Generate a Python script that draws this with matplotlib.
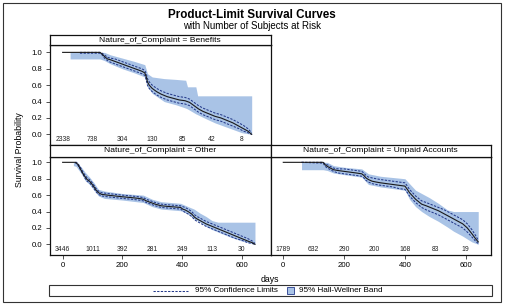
import numpy as np
import matplotlib
matplotlib.use("Agg")
import matplotlib.pyplot as plt
from matplotlib.lines import Line2D
from matplotlib.patches import Rectangle

plt.rcParams['font.family'] = ['Liberation Sans', 'DejaVu Sans']

nan = np.nan
panel_titles = ["Nature_of_Complaint = Benefits",
                "Nature_of_Complaint = Other",
                "Nature_of_Complaint = Unpaid Accounts"]
risk_times = [0, 100, 200, 300, 400, 500, 600]
xticks = [0, 200, 400, 600]
yticks = [0.0, 0.2, 0.4, 0.6, 0.8, 1.0]
legend_labels = ["95% Confidence Limits", "95% Hall-Wellner Band"]

# Benefits
b_t = [0, 58, 125, 132, 140, 150, 160, 175, 190, 205, 220, 235, 250, 265, 275, 280, 284, 290, 300, 315,
       330, 350, 370, 390, 410, 425, 440, 455, 470, 490, 510, 530, 550, 570, 590, 605, 620, 633]
b_s = [1.0, 1.0, 1.0, 0.98, 0.95, 0.92, 0.91, 0.89, 0.87, 0.85, 0.83, 0.81, 0.79, 0.77, 0.75, 0.70, 0.64, 0.60, 0.56, 0.52,
       0.49, 0.46, 0.44, 0.42, 0.41, 0.39, 0.35, 0.31, 0.28, 0.25, 0.22, 0.20, 0.17, 0.14, 0.10, 0.07, 0.04, 0.0]
b_lo = [nan, 0.99, 0.99, 0.97, 0.93, 0.90, 0.88, 0.86, 0.84, 0.82, 0.80, 0.78, 0.76, 0.74, 0.72, 0.66, 0.60, 0.56, 0.52, 0.48,
        0.45, 0.42, 0.40, 0.38, 0.37, 0.35, 0.31, 0.27, 0.24, 0.21, 0.18, 0.16, 0.13, 0.10, 0.07, 0.04, 0.02, 0.0]
b_hi = [nan, 1.0, 1.0, 0.99, 0.97, 0.94, 0.93, 0.92, 0.90, 0.88, 0.86, 0.84, 0.82, 0.80, 0.78, 0.74, 0.68, 0.64, 0.60, 0.56,
        0.53, 0.50, 0.48, 0.46, 0.45, 0.43, 0.39, 0.35, 0.32, 0.29, 0.26, 0.24, 0.21, 0.18, 0.14, 0.11, 0.07, 0.02]
bb_t = [25, 125, 140, 160, 200, 240, 275, 284, 300, 340, 380, 412, 418, 446, 452, 480, 510, 540, 570, 600, 633]
bb_lo = [0.92, 0.92, 0.90, 0.86, 0.80, 0.75, 0.70, 0.58, 0.50, 0.40, 0.36, 0.32, 0.31, 0.25, 0.24, 0.19, 0.14, 0.10, 0.06, 0.02, 0.0]
bb_hi = [1.0, 1.0, 1.0, 0.97, 0.93, 0.89, 0.85, 0.74, 0.70, 0.68, 0.67, 0.66, 0.58, 0.58, 0.47, 0.47, 0.47, 0.47, 0.47, 0.47, 0.47]
b_risk = [2338, 738, 304, 130, 85, 42, 8]

# Other
o_t = [0, 42, 47, 52, 58, 64, 70, 76, 82, 90, 97, 105, 112, 120, 130, 150, 175, 200, 230, 255,
       270, 280, 295, 310, 330, 360, 395, 402, 410, 420, 432, 442, 450, 465, 480, 500, 520, 540, 560, 580,
       600, 620, 635, 644]
o_s = [1.0, 1.0, 0.99, 0.97, 0.93, 0.89, 0.85, 0.82, 0.79, 0.77, 0.74, 0.70, 0.66, 0.63, 0.61, 0.60, 0.59, 0.58, 0.57, 0.56,
       0.55, 0.53, 0.51, 0.49, 0.47, 0.46, 0.45, 0.43, 0.42, 0.40, 0.37, 0.33, 0.31, 0.28, 0.25, 0.22, 0.19, 0.16, 0.13, 0.10,
       0.07, 0.04, 0.02, 0.0]
o_lo = [nan, 1.0, 0.98, 0.96, 0.92, 0.88, 0.84, 0.80, 0.77, 0.75, 0.72, 0.68, 0.64, 0.61, 0.59, 0.58, 0.57, 0.56, 0.55, 0.54,
        0.53, 0.51, 0.49, 0.47, 0.45, 0.44, 0.43, 0.41, 0.39, 0.37, 0.34, 0.30, 0.28, 0.25, 0.22, 0.19, 0.16, 0.13, 0.10, 0.07,
        0.05, 0.02, 0.01, 0.0]
o_hi = [nan, 1.0, 1.0, 0.98, 0.95, 0.91, 0.87, 0.84, 0.81, 0.79, 0.76, 0.72, 0.68, 0.65, 0.63, 0.62, 0.61, 0.60, 0.59, 0.58,
        0.57, 0.55, 0.53, 0.51, 0.49, 0.48, 0.47, 0.46, 0.45, 0.43, 0.40, 0.36, 0.34, 0.31, 0.28, 0.25, 0.22, 0.19, 0.16, 0.13,
        0.10, 0.07, 0.04, 0.01]
ob_t = [36, 45, 55, 65, 75, 90, 105, 120, 140, 200, 270, 300, 330, 395, 420, 440, 460, 480, 500, 520, 560, 600, 644]
ob_lo = [0.96, 0.95, 0.90, 0.85, 0.78, 0.73, 0.66, 0.59, 0.56, 0.54, 0.51, 0.46, 0.43, 0.41, 0.37, 0.31, 0.27, 0.22, 0.18, 0.15,
         0.09, 0.04, 0.0]
ob_hi = [1.0, 1.0, 0.97, 0.93, 0.88, 0.82, 0.75, 0.67, 0.65, 0.62, 0.60, 0.55, 0.52, 0.50, 0.46, 0.43, 0.38, 0.34, 0.29, 0.27,
         0.27, 0.27, 0.27]
o_risk = [3446, 1011, 392, 281, 249, 113, 30]

# Unpaid Accounts
u_t = [0, 60, 131, 138, 145, 155, 165, 180, 200, 220, 240, 258, 265, 272, 280, 292, 305, 320, 340, 360,
       380, 400, 408, 415, 425, 435, 445, 455, 470, 490, 510, 530, 550, 570, 590, 605, 620, 632, 641]
u_s = [1.0, 1.0, 1.0, 0.97, 0.95, 0.93, 0.91, 0.90, 0.89, 0.88, 0.87, 0.86, 0.84, 0.81, 0.79, 0.77, 0.76, 0.75, 0.74, 0.73,
       0.72, 0.71, 0.67, 0.63, 0.59, 0.55, 0.52, 0.49, 0.47, 0.44, 0.41, 0.37, 0.33, 0.29, 0.25, 0.20, 0.13, 0.07, 0.03]
u_lo = [nan, 1.0, 0.99, 0.95, 0.93, 0.91, 0.89, 0.87, 0.86, 0.85, 0.84, 0.83, 0.81, 0.78, 0.76, 0.74, 0.73, 0.72, 0.71, 0.70,
        0.68, 0.67, 0.63, 0.59, 0.55, 0.51, 0.48, 0.45, 0.42, 0.39, 0.36, 0.32, 0.28, 0.24, 0.20, 0.15, 0.09, 0.04, 0.01]
u_hi = [nan, 1.0, 1.0, 0.98, 0.97, 0.95, 0.93, 0.92, 0.92, 0.91, 0.90, 0.89, 0.87, 0.84, 0.82, 0.81, 0.80, 0.79, 0.78, 0.77,
        0.76, 0.75, 0.71, 0.67, 0.63, 0.59, 0.56, 0.53, 0.51, 0.48, 0.45, 0.42, 0.38, 0.34, 0.30, 0.25, 0.18, 0.11, 0.05]
ub_t = [60, 131, 145, 165, 200, 258, 280, 320, 400, 415, 435, 455, 480, 510, 540, 560, 590, 620, 641]
ub_lo = [0.91, 0.91, 0.90, 0.87, 0.85, 0.82, 0.73, 0.70, 0.66, 0.55, 0.46, 0.40, 0.34, 0.28, 0.21, 0.16, 0.10, 0.03, 0.0]
ub_hi = [1.0, 1.0, 1.0, 0.96, 0.94, 0.92, 0.86, 0.83, 0.80, 0.74, 0.66, 0.62, 0.57, 0.50, 0.42, 0.40, 0.40, 0.40, 0.40]
u_risk = [1789, 632, 290, 200, 168, 83, 19]

W, H = 505, 306
BAND = '#a9c3e6'
CI = '#24398a'
CURVE = '#1a1a1a'
DASH = (0, (2.2, 1.3))

fig = plt.figure(figsize=(W / 100, H / 100), dpi=100)

def rect(x0, y0, x1, y1):
    return [x0 / W, 1 - y1 / H, (x1 - x0) / W, (y1 - y0) / H]

fig.patches.append(Rectangle((3 / W, 1 - 302 / H), 498 / W, 299 / H, transform=fig.transFigure,
                             fill=False, edgecolor='#333333', lw=0.8))

fig.text(252 / W, 1 - 15 / H, "Product-Limit Survival Curves", ha='center', va='center',
         fontsize=8.4, fontweight='bold')
fig.text(252 / W, 1 - 26 / H, "with Number of Subjects at Risk", ha='center', va='center', fontsize=7.0)

panels = [
    (rect(49.5, 45, 270.5, 145), rect(49.5, 35, 270.5, 45), (-44, 696), (-0.13, 1.09),
     b_t, b_s, b_lo, b_hi, bb_t, bb_lo, bb_hi, b_risk, panel_titles[0], True, False),
    (rect(49.5, 157, 270.5, 255), rect(49.5, 145, 270.5, 157), (-44, 696), (-0.13, 1.065),
     o_t, o_s, o_lo, o_hi, ob_t, ob_lo, ob_hi, o_risk, panel_titles[1], True, True),
    (rect(270.5, 157, 491, 255), rect(270.5, 145, 491, 157), (-42, 683), (-0.13, 1.065),
     u_t, u_s, u_lo, u_hi, ub_t, ub_lo, ub_hi, u_risk, panel_titles[2], False, True),
]

for (pos, hpos, xl, yl, t, s, lo, hi, tb, blo, bhi, risk, title, yt, xt) in panels:
    ax = fig.add_axes(pos)
    ax.fill_between(tb, blo, bhi, color=BAND, lw=0)
    ax.plot(t, lo, color=CI, lw=0.75, ls=DASH)
    ax.plot(t, hi, color=CI, lw=0.75, ls=DASH)
    ax.plot(t, s, color=CURVE, lw=0.8)
    for rt, r in zip(risk_times, risk):
        ax.text(rt, -0.065, str(r), ha='center', va='center', fontsize=4.9, color='#222222')
    ax.set_xlim(*xl)
    ax.set_ylim(*yl)
    for sp in ax.spines.values():
        sp.set_linewidth(0.9)
        sp.set_color('#111111')
    ax.tick_params(length=3, width=0.6, pad=2, labelsize=5.6, color='#333333')
    if yt:
        ax.set_yticks(yticks)
        ax.set_yticklabels([f"{v:.1f}" for v in yticks])
    else:
        ax.set_yticks([])
    if xt:
        ax.set_xticks(xticks)
        ax.set_xticklabels([str(v) for v in xticks])
    else:
        ax.set_xticks([])
    hax = fig.add_axes(hpos)
    hax.set_xticks([])
    hax.set_yticks([])
    for sp in hax.spines.values():
        sp.set_linewidth(0.9)
        sp.set_color('#111111')
    hax.text(0.5, 0.5, title, ha='center', va='center', fontsize=6.1, transform=hax.transAxes)

fig.text(20 / W, 1 - 150 / H, "Survival Probability", rotation=90, ha='center', va='center', fontsize=6.3)
fig.text(270 / W, 1 - 279 / H, "days", ha='center', va='center', fontsize=6.3)

# legend box drawn by hand
fig.patches.append(Rectangle((49 / W, 1 - 296 / H), 443 / W, 11 / H, transform=fig.transFigure,
                             fill=False, edgecolor='#333333', lw=0.8))
ly = 1 - 290.5 / H
fig.lines.append(Line2D([153 / W, 188 / W], [ly, ly], transform=fig.transFigure, color=CI, lw=0.75, ls=DASH))
fig.text(195 / W, ly, legend_labels[0], ha='left', va='center', fontsize=5.9)
fig.patches.append(Rectangle((287 / W, 1 - 294 / H), 7 / W, 7 / H, transform=fig.transFigure,
                             facecolor=BAND, edgecolor=CI, lw=0.6))
fig.text(299 / W, ly, legend_labels[1], ha='left', va='center', fontsize=5.9)

fig.savefig("out.png", dpi=100)
